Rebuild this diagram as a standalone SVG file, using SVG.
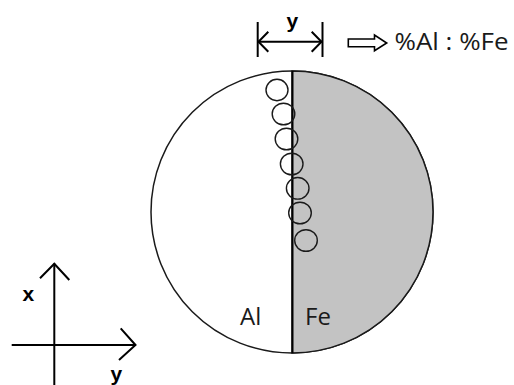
<svg xmlns="http://www.w3.org/2000/svg" width="514" height="385" viewBox="0 0 514 385">
  <style>
    .ln { stroke: #000; stroke-width: 2; fill: none; stroke-linecap: butt; }
    .thin { stroke: #1a1a1a; stroke-width: 1.4; fill: none; }
    .lbl { font-family: "Open Sans", "DejaVu Sans", sans-serif; font-size: 24px; fill: #1a1a1a; }
    .ax { font-family: "Liberation Sans", Arial, sans-serif; font-weight: bold; font-size: 21px; fill: #000; }
  </style>
  <rect width="514" height="385" fill="#fff"/>
  <g id="disc">
    <circle cx="292" cy="212" r="141" fill="#fff" stroke="#1a1a1a" stroke-width="1.5"/>
    <path d="M292,71 A141,141 0 0 1 292,353 Z" fill="#c3c3c3" stroke="#1a1a1a" stroke-width="1.5"/>
    <line x1="292.5" y1="71" x2="292.5" y2="353" class="ln"/>
    <text class="lbl" x="240" y="324.5">Al</text>
    <text class="lbl" x="305" y="324.5">Fe</text>
  </g>
  <g id="particles" class="thin">
    <ellipse cx="277" cy="90" rx="11" ry="10.7"/>
    <ellipse cx="283.5" cy="114" rx="11.3" ry="10.8"/>
    <ellipse cx="286.5" cy="139" rx="11.3" ry="10.8"/>
    <ellipse cx="291.7" cy="164" rx="11.3" ry="10.8"/>
    <ellipse cx="297.7" cy="188.3" rx="11.3" ry="10.8"/>
    <ellipse cx="300" cy="213" rx="11.3" ry="10.8"/>
    <ellipse cx="306" cy="240.5" rx="11.3" ry="10.8"/>
  </g>
  <g id="result">
    <text class="lbl" x="394.5" y="50" textLength="114" lengthAdjust="spacingAndGlyphs">%Al : %Fe</text>
  </g>
  <g id="connectors">
    <g id="dimension">
      <line x1="257.7" y1="22" x2="257.7" y2="57" class="ln"/>
      <line x1="322.5" y1="22" x2="322.5" y2="57" class="ln"/>
      <line x1="258" y1="41.7" x2="322" y2="41.7" class="ln"/>
      <polyline points="268.3,31.7 258.5,41.7 268.3,51.7" class="ln"/>
      <polyline points="311.7,31.7 321.5,41.7 311.7,51.7" class="ln"/>
      <text class="ax" x="286.5" y="28">y</text>
    </g>
    <polygon id="implies" points="348.3,39 374.5,39 374.5,35 386.7,43 374.5,50.7 374.5,46.7 348.3,46.7" fill="#fff" stroke="#000" stroke-width="1.6" stroke-linejoin="miter"/>
    <g id="axes">
      <line x1="54.3" y1="263.5" x2="54.3" y2="385" class="ln"/>
      <line x1="11.7" y1="345" x2="135.5" y2="345" class="ln"/>
      <polyline points="40,278.3 54.3,263.8 69.3,280" class="ln"/>
      <polyline points="120.7,328.3 135.5,345 119,360" class="ln"/>
      <text class="ax" x="22.5" y="300.7">x</text>
      <text class="ax" x="110.5" y="380.7">y</text>
    </g>
  </g>
</svg>
